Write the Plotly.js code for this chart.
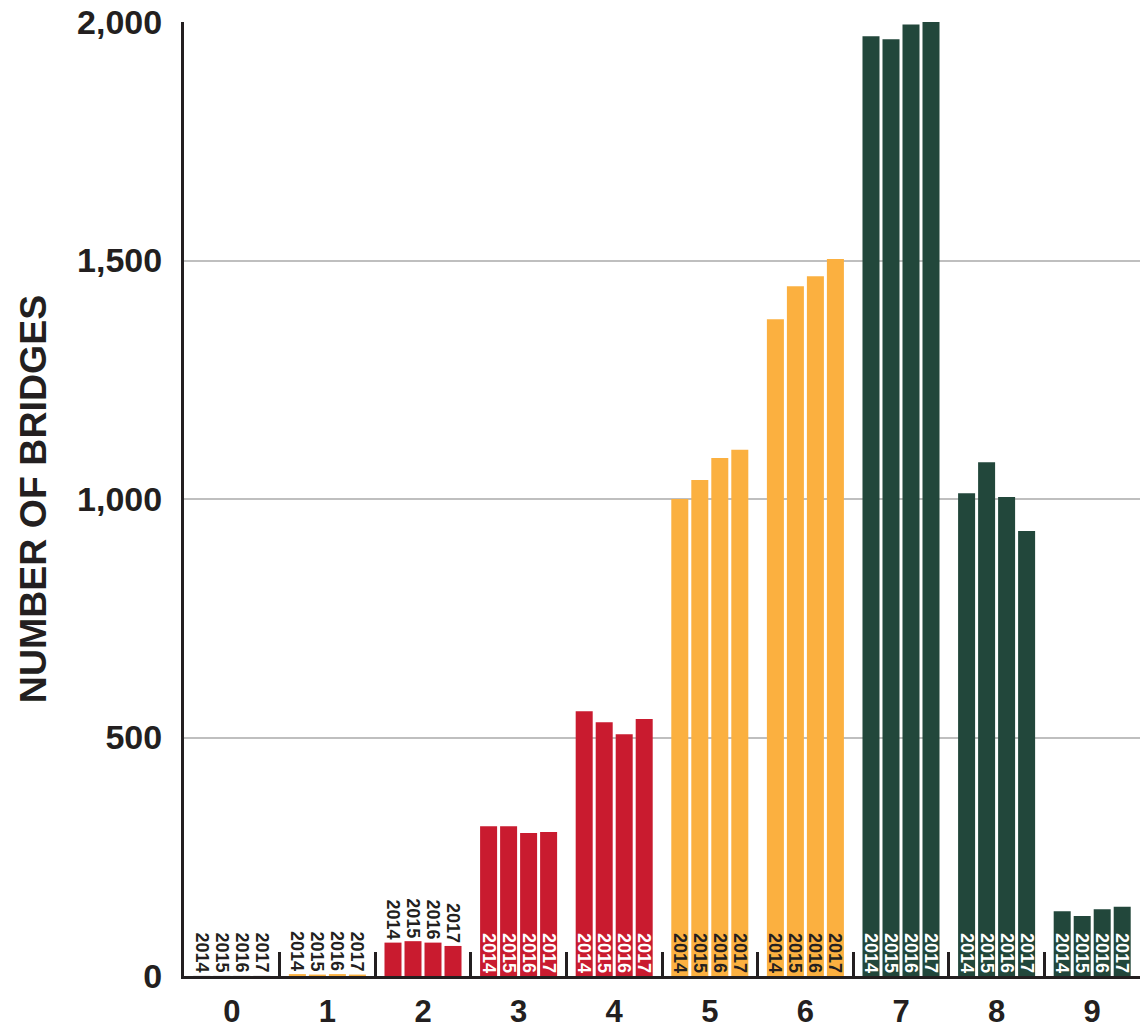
<!DOCTYPE html>
<html>
<head>
<meta charset="utf-8">
<script src="https://cdn.plot.ly/plotly-3.0.1.min.js"></script>
<style>html,body{margin:0;padding:0;background:#fff;}#chart{width:1146px;height:1028px;}</style>
</head>
<body>
<div id="chart"></div>
<script>
// Categories (condition rating) and yearly counts
var categories = ['0','1','2','3','4','5','6','7','8','9'];
var years = ['2014','2015','2016','2017'];
var values2014 = [1, 4, 70, 314, 555, 1000, 1377, 1970, 1012, 136];
var values2015 = [1, 3, 73, 314, 532, 1040, 1446, 1964, 1077, 126];
var values2016 = [1, 4, 70, 300, 507, 1086, 1467, 1995, 1004, 140];
var values2017 = [1, 3, 63, 302, 539, 1103, 1503, 2000, 933, 145];
var yTickVals = [0, 500, 1000, 1500, 2000];
var yTickText = ['0', '500', '1,000', '1,500', '2,000'];

var RED = '#C91B2F', ORANGE = '#FBB040', GREEN = '#22473B', GREY = '#dcdcdc';
var catColors = [GREY, ORANGE, RED, RED, RED, ORANGE, ORANGE, GREEN, GREEN, GREEN];
var textPos = categories.map(function(c, i){ return i < 3 ? 'outside' : 'inside'; });
var textCol = categories.map(function(c, i){
  if (i < 3) return '#231f20';
  return catColors[i] === ORANGE ? '#231f20' : '#ffffff';
});

var series = [values2014, values2015, values2016, values2017];
var traces = series.map(function(vals, k){
  return {
    type: 'bar',
    x: categories,
    y: vals,
    name: years[k],
    text: categories.map(function(){ return years[k]; }),
    textposition: textPos,
    insidetextanchor: 'start',
    textangle: 90,
    constraintext: 'none',
    cliponaxis: false,
    textfont: {family: '"Liberation Sans Narrow", "Arial Narrow", "Liberation Sans", Arial, sans-serif', size: 18, color: textCol, weight: 'bold'},
    marker: {color: catColors, line: {width: 0}},
    hoverinfo: 'skip'
  };
});

var layout = {
  width: 1146, height: 1028,
  margin: {l: 184, r: 6, t: 22, b: 52, pad: 0},
  paper_bgcolor: '#ffffff', plot_bgcolor: '#ffffff',
  showlegend: false,
  barmode: 'group',
  bargap: 0.163,
  bargroupgap: 0.15,
  font: {family: '"Liberation Sans", Arial, sans-serif', color: '#231f20'},
  xaxis: {
    type: 'category',
    range: [-0.5, 9.5],
    showgrid: false,
    zeroline: false,
    showline: true, linecolor: '#231f20', linewidth: 3,
    tickson: 'boundaries',
    ticks: 'inside', ticklen: 24, tickwidth: 3, tickcolor: '#231f20',
    ticklabelstandoff: 6,
    tickfont: {family: '"Liberation Sans", Arial, sans-serif', size: 31, color: '#231f20', weight: 'bold'},
    fixedrange: true
  },
  yaxis: {
    range: [0, 2000],
    tickvals: yTickVals, ticktext: yTickText,
    showgrid: true, gridcolor: '#bfbfbf', gridwidth: 2,
    zeroline: false,
    showline: true, linecolor: '#231f20', linewidth: 3,
    ticks: '',
    ticklabelstandoff: 12,
    tickfont: {family: '"Liberation Sans", Arial, sans-serif', size: 34, color: '#231f20', weight: 'bold'},
    title: {text: 'NUMBER OF BRIDGES', standoff: 19,
            font: {family: '"Liberation Sans", Arial, sans-serif', size: 37.5, color: '#231f20', weight: 'bold'}},
    automargin: false,
    fixedrange: true
  }
};

Plotly.newPlot('chart', traces, layout, {displayModeBar: false, staticPlot: true});
</script>
</body>
</html>
